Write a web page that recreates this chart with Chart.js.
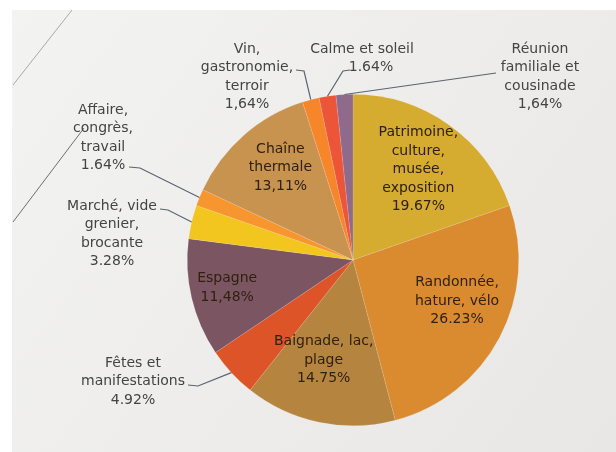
<!DOCTYPE html>
<html>
<head>
<meta charset="utf-8">
<script src="https://cdn.jsdelivr.net/npm/chart.js@4.4.1/dist/chart.umd.min.js"></script>
<style>
  html, body { margin: 0; padding: 0; background: #ffffff; }
  #pie { display: block; }
</style>
</head>
<body>
<canvas id="pie" width="616" height="452"></canvas>
<script>
// Slice names (one entry per text line), clockwise from 12 o'clock
const categories = [
    ['Patrimoine,', 'culture,', 'musée,', 'exposition'],
    ['Randonnée,', 'hature, vélo'],
    ['Baignade, lac,', 'plage'],
    ['Fêtes et', 'manifestations'],
    ['Espagne'],
    ['Marché, vide', 'grenier,', 'brocante'],
    ['Affaire,', 'congrès,', 'travail'],
    ['Chaîne', 'thermale'],
    ['Vin,', 'gastronomie,', 'terroir'],
    ['Calme et soleil'],
    ['Réunion', 'familiale et', 'cousinade']
];

// Share of answers, in percent
const shares = [19.67, 26.23, 14.75, 4.92, 11.48, 3.28, 1.64, 13.11, 1.64, 1.64, 1.64];

// decimal mark as printed on the original slide
const decimalMarks = ['.', '.', '.', '.', ',', '.', '.', ',', ',', '.', ','];

const sliceColors = [
    '#d5ab30', '#da8b2f', '#b5843f', '#dc5428', '#7c5563', '#f3c51f',
    '#f7962e', '#c8924f', '#f7862a', '#ec5538', '#8f6a8b'
];

// where each label goes: inside the slice, or outside with a leader line
const placement = [
    { inside: true, r: 0.67, dx: 1, dy: 0 },
    { inside: true, r: 0.67, dx: 6, dy: -11 },
    { inside: true, r: 0.63, dx: -8, dy: -2 },
    { x: 133, y: 363, path: [[188, 385], [198, 386]] },
    { inside: true, r: 0.78, dx: 0, dy: -2 },
    { x: 112, y: 206, path: [[160, 209], [168, 210]] },
    { x: 103, y: 110, path: [[129, 167], [140, 168]] },
    { inside: true, r: 0.7, dx: 4, dy: -5 },
    { x: 247, y: 49, path: [[296, 70], [304, 71]] },
    { x: 362, y: 49, pctDx: 9, path: [[350, 70], [343, 71]] },
    { x: 540, y: 49, path: [[496, 73]] }
];

const lineGap = 18.5;

function pctText(i) {
    return shares[i].toFixed(2).replace('.', decimalMarks[i]) + '%';
}

const slideBackground = {
    id: 'slideBackground',
    beforeDraw(chart) {
        const ctx = chart.ctx;
        ctx.save();
        ctx.fillStyle = '#ffffff';
        ctx.fillRect(0, 0, chart.width, chart.height);
        const g = ctx.createLinearGradient(12, 10, chart.width, chart.height);
        g.addColorStop(0, '#f3f3f1');
        g.addColorStop(1, '#e8e7e5');
        ctx.fillStyle = g;
        ctx.fillRect(12, 10, chart.width - 12, chart.height - 10);
        // decorative strokes of the slide template
        ctx.strokeStyle = '#a9a9a9';
        ctx.lineWidth = 1;
        ctx.beginPath();
        ctx.moveTo(72, 10);
        ctx.lineTo(13, 85);
        ctx.stroke();
        ctx.strokeStyle = '#6e6e6e';
        ctx.beginPath();
        ctx.moveTo(84, 128);
        ctx.lineTo(13, 222);
        ctx.stroke();
        ctx.restore();
    }
};

const sliceLabels = {
    id: 'sliceLabels',
    afterDatasetsDraw(chart) {
        const ctx = chart.ctx;
        const meta = chart.getDatasetMeta(0);
        ctx.save();
        ctx.font = '14px "DejaVu Sans"';
        ctx.textAlign = 'center';
        ctx.textBaseline = 'middle';
        meta.data.forEach((arc, i) => {
            const p = arc.getProps(['x', 'y', 'startAngle', 'endAngle', 'outerRadius'], true);
            const mid = (p.startAngle + p.endAngle) / 2;
            const lines = categories[i].concat([pctText(i)]);
            const pl = placement[i];
            if (pl.inside) {
                const cx = p.x + Math.cos(mid) * p.outerRadius * pl.r + pl.dx;
                const cy = p.y + Math.sin(mid) * p.outerRadius * pl.r + pl.dy;
                const top = cy - (lines.length - 1) * lineGap / 2;
                ctx.fillStyle = '#2f2110';
                lines.forEach((t, k) => ctx.fillText(t, cx, top + k * lineGap));
            } else {
                ctx.fillStyle = '#444444';
                lines.forEach((t, k) => {
                    const shift = (k === lines.length - 1) ? (pl.pctDx || 0) : 0;
                    ctx.fillText(t, pl.x + shift, pl.y + k * lineGap);
                });
                const ex = p.x + Math.cos(mid) * p.outerRadius;
                const ey = p.y + Math.sin(mid) * p.outerRadius;
                ctx.strokeStyle = '#5a6470';
                ctx.lineWidth = 1.2;
                ctx.beginPath();
                ctx.moveTo(pl.path[0][0], pl.path[0][1]);
                pl.path.slice(1).forEach(pt => ctx.lineTo(pt[0], pt[1]));
                ctx.lineTo(ex, ey);
                ctx.stroke();
            }
        });
        ctx.restore();
    }
};

new Chart(document.getElementById('pie'), {
    type: 'pie',
    data: {
        labels: categories.map(c => c.join(' ')),
        datasets: [{
            data: shares,
            backgroundColor: sliceColors,
            borderWidth: 0.5,
            borderColor: 'rgba(255,255,255,0.25)'
        }]
    },
    options: {
        responsive: false,
        animation: false,
        layout: { padding: { left: 187, right: 97, top: 94, bottom: 26 } },
        plugins: {
            legend: { display: false },
            tooltip: { enabled: false }
        }
    },
    plugins: [slideBackground, sliceLabels]
});
</script>
</body>
</html>
